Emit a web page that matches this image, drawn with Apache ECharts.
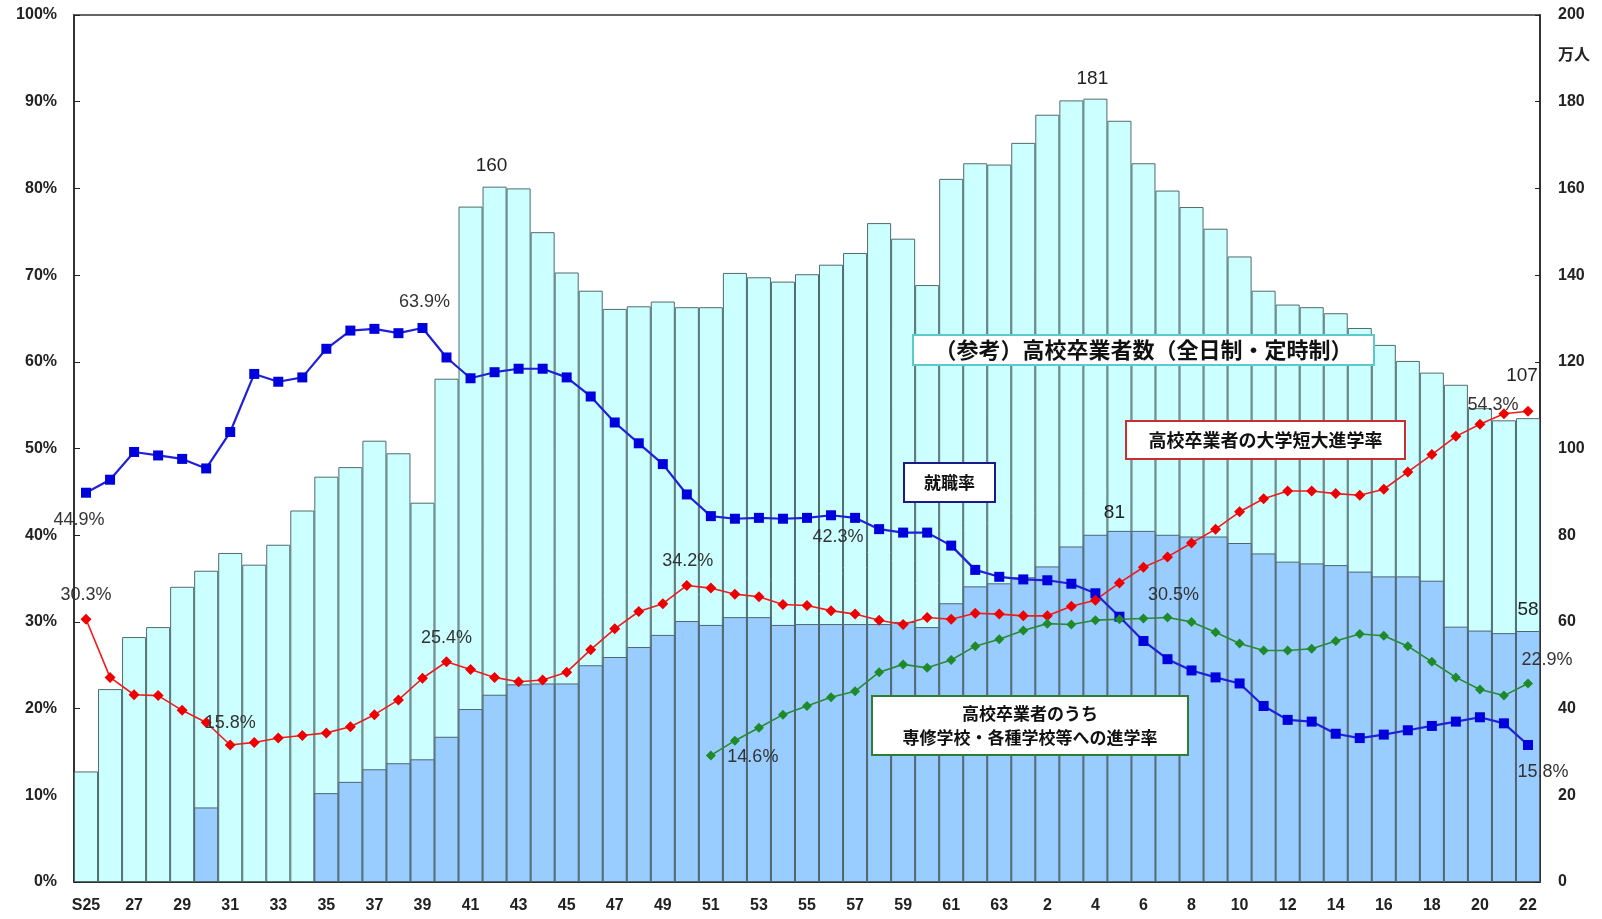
<!DOCTYPE html>
<html>
<head>
<meta charset="utf-8">
<title>高校卒業者の進路状況の推移</title>
<script src="https://cdn.jsdelivr.net/npm/echarts@6/dist/echarts.min.js"></script>
<style>
  html, body { margin: 0; padding: 0; background: #fff; }
  #chart { width: 1602px; height: 919px; }
</style>
</head>
<body>
<div id="chart"></div>
<script>
// 年度（昭和25年〜平成22年）
const categories = [
  'S25','26','27','28','29','30','31','32','33','34',
  '35','36','37','38','39','40','41','42','43','44',
  '45','46','47','48','49','50','51','52','53','54',
  '55','56','57','58','59','60','61','62','63',
  '1','2','3','4','5','6','7','8','9','10',
  '11','12','13','14','15','16','17','18','19','20',
  '21','22'
];

// （参考）高校卒業者数（全日制・定時制）  単位：万人
const totalGrads = [
  25.5, 44.5, 56.5, 58.8, 68.1, 71.8, 75.9, 73.2, 77.8, 85.7,
  93.5, 95.7, 101.8, 98.9, 87.5, 116.1, 155.8, 160.4, 160.0, 149.9,
  140.6, 136.4, 132.2, 132.8, 133.9, 132.6, 132.6, 140.5, 139.5, 138.5,
  140.2, 142.4, 145.1, 152.0, 148.4, 137.7, 162.2, 165.8, 165.5,
  170.5, 177.0, 180.3, 180.7, 175.6, 165.8, 159.5, 155.7, 150.7, 144.3,
  136.4, 133.2, 132.6, 131.2, 127.8, 123.9, 120.2, 117.5, 114.7, 109.3,
  106.5, 107.0
];

// 内訳（濃色の棒）  単位：万人
const subsetGrads = [
  null, null, null, null, null, 17.2, null, null, null, null,
  20.5, 23.1, 26.0, 27.4, 28.3, 33.5, 39.9, 43.2, 45.6, 45.8,
  45.8, 50.0, 51.9, 54.2, 57.0, 60.2, 59.3, 61.1, 61.1, 59.3,
  59.5, 59.5, 59.5, 59.5, 60.0, 58.8, 64.3, 68.2, 68.9,
  70.3, 72.8, 77.4, 80.1, 81.0, 81.0, 80.1, 79.7, 79.7, 78.2,
  75.8, 73.9, 73.5, 73.1, 71.6, 70.5, 70.5, 69.5, 58.9, 58.0,
  57.4, 57.9
];

// 就職率（%）
const employRate = [
  44.9, 46.4, 49.6, 49.2, 48.8, 47.7, 51.9, 58.6, 57.7, 58.2,
  61.5, 63.6, 63.8, 63.3, 63.9, 60.5, 58.1, 58.8, 59.2, 59.2,
  58.2, 56.0, 53.0, 50.6, 48.2, 44.7, 42.2, 41.9, 42.0, 41.9,
  42.0, 42.3, 42.0, 40.7, 40.3, 40.3, 38.8, 36.0, 35.2,
  34.9, 34.8, 34.4, 33.3, 30.6, 27.8, 25.7, 24.4, 23.6, 22.9,
  20.3, 18.7, 18.5, 17.1, 16.6, 17.0, 17.5, 18.0, 18.5, 19.0,
  18.3, 15.8
];

// 高校卒業者の大学短大進学率（%）
const uniRate = [
  30.3, 23.6, 21.6, 21.5, 19.8, 18.4, 15.8, 16.1, 16.6, 16.9,
  17.2, 17.9, 19.3, 21.0, 23.5, 25.4, 24.5, 23.6, 23.1, 23.3,
  24.2, 26.8, 29.2, 31.2, 32.1, 34.2, 33.9, 33.2, 32.9, 32.0,
  31.9, 31.3, 30.9, 30.2, 29.7, 30.5, 30.3, 31.0, 30.9,
  30.7, 30.7, 31.8, 32.5, 34.5, 36.3, 37.5, 39.1, 40.7, 42.7,
  44.2, 45.1, 45.1, 44.8, 44.6, 45.3, 47.3, 49.3, 51.4, 52.8,
  54.0, 54.3
];

// 高校卒業者のうち専修学校・各種学校等への進学率（%）
const specialRate = [
  null, null, null, null, null, null, null, null, null, null,
  null, null, null, null, null, null, null, null, null, null,
  null, null, null, null, null, null, 14.6, 16.3, 17.8, 19.3,
  20.3, 21.3, 22.0, 24.2, 25.1, 24.7, 25.6, 27.2, 28.0,
  29.0, 29.8, 29.7, 30.2, 30.3, 30.4, 30.5, 30.0, 28.8, 27.5,
  26.7, 26.7, 26.9, 27.8, 28.6, 28.4, 27.2, 25.4, 23.6, 22.2,
  21.5, 22.9
];

// 値ラベルを付ける点（インデックス → ラベルのずらし量）
const totalLabelAt   = { 17: [-3, -6], 42: [-3, -5], 60: [-6, -28] };
const subsetLabelAt  = { 43: [-5, -4], 60: [0, -7] };
const employLabelAt  = { 0: [-7, 27], 14: [2, -26], 31: [7, 22], 60: [15, 27] };
const uniLabelAt     = { 0: [0, -24], 6: [0, -22], 15: [0, -24], 25: [1, -24], 60: [-35, -6] };
const specialLabelAt = { 26: [42, 2], 45: [6, -23], 60: [19, -23] };

const LABEL_FONT = "'Liberation Sans', Arial, 'Noto Sans CJK JP', sans-serif";
const CJK_FONT = "'Noto Sans CJK JP', 'Liberation Sans', sans-serif";

function lineData(values, marks) {
  return values.map((v, i) => marks[i] ? {
    value: v,
    label: {
      show: true, position: 'inside', offset: marks[i],
      formatter: p => p.value.toFixed(1) + '%',
      fontFamily: LABEL_FONT, fontSize: 18, color: '#333'
    }
  } : v);
}

function barData(values, marks) {
  return values.map((v, i) => marks[i] ? {
    value: v,
    label: {
      show: true, position: 'top', offset: marks[i],
      formatter: p => String(Math.round(p.value)),
      fontFamily: LABEL_FONT, fontSize: 19, color: '#222'
    }
  } : v);
}

// 凡例代わりの枠付き注記
function noteBox(x, y, w, h, stroke, lines, fontSize) {
  const els = [{
    type: 'rect', x: x, y: y, z: 20,
    shape: { x: 0, y: 0, width: w, height: h },
    style: { fill: '#ffffff', stroke: stroke, lineWidth: 2 }
  }];
  const step = h / lines.length;
  lines.forEach((t, k) => {
    els.push({
      type: 'text', x: x + w / 2, y: y + step * (k + 0.5) + (lines.length > 1 ? (k === 0 ? 3 : -3) : 0), z: 21,
      style: {
        text: t, font: 'bold ' + fontSize + 'px ' + CJK_FONT,
        fill: '#111', align: 'center', verticalAlign: 'middle'
      }
    });
  });
  return els;
}

const chart = echarts.init(document.getElementById('chart'), null, { renderer: 'canvas' });

const tickLabel = { fontFamily: LABEL_FONT, fontSize: 16, fontWeight: 'bold', color: '#222' };

chart.setOption({
  animation: false,
  backgroundColor: '#ffffff',
  grid: {
    left: 74, right: 62, top: 15, bottom: 37,
    show: true, borderColor: '#333', borderWidth: 1.5, backgroundColor: 'transparent'
  },
  xAxis: {
    type: 'category',
    data: categories,
    boundaryGap: true,
    axisLine: { lineStyle: { color: '#222', width: 1.5 } },
    axisTick: { inside: true, length: 4, interval: 0, lineStyle: { color: '#222' } },
    axisLabel: Object.assign({ interval: 1, margin: 16, fontSize: 17 }, tickLabel),
    splitLine: { show: false }
  },
  yAxis: [
    {
      type: 'value', min: 0, max: 100, interval: 10,
      axisLine: { show: true, lineStyle: { color: '#222', width: 1.5 } },
      axisTick: { show: true, inside: true, length: 6, lineStyle: { color: '#222' } },
      axisLabel: Object.assign({ formatter: '{value}%', margin: 17 }, tickLabel),
      splitLine: { show: false }
    },
    {
      type: 'value', min: 0, max: 200, interval: 20, position: 'right',
      axisLine: { show: true, lineStyle: { color: '#222', width: 1.5 } },
      axisTick: { show: true, inside: true, length: 5, lineStyle: { color: '#222' } },
      axisLabel: Object.assign({ margin: 18 }, tickLabel),
      splitLine: { show: false }
    }
  ],
  series: [
    {
      name: '高校卒業者数',
      type: 'bar',
      yAxisIndex: 1,
      data: barData(totalGrads, totalLabelAt),
      barCategoryGap: '0%',
      barGap: '-100%',
      itemStyle: { color: '#ccffff', borderColor: '#4f6b6b', borderWidth: 1 },
      z: 1
    },
    {
      name: '内訳',
      type: 'bar',
      yAxisIndex: 1,
      data: barData(subsetGrads, subsetLabelAt),
      barCategoryGap: '0%',
      barGap: '-100%',
      itemStyle: { color: '#99ccff', borderColor: '#4f6470', borderWidth: 1 },
      z: 2
    },
    {
      name: '就職率',
      type: 'line',
      yAxisIndex: 0,
      data: lineData(employRate, employLabelAt),
      symbol: 'rect', symbolSize: 10,
      lineStyle: { color: '#2020d8', width: 2.2 },
      itemStyle: { color: '#0000dd' },
      z: 5
    },
    {
      name: '大学短大進学率',
      type: 'line',
      yAxisIndex: 0,
      data: lineData(uniRate, uniLabelAt),
      symbol: 'diamond', symbolSize: 11,
      lineStyle: { color: '#ee1c1c', width: 1.6 },
      itemStyle: { color: '#ee0000' },
      z: 5
    },
    {
      name: '専修学校・各種学校等進学率',
      type: 'line',
      yAxisIndex: 0,
      data: lineData(specialRate, specialLabelAt),
      symbol: 'diamond', symbolSize: 10,
      lineStyle: { color: '#2b8a35', width: 1.6 },
      itemStyle: { color: '#1f8a2a' },
      connectNulls: false,
      z: 5
    }
  ],
  graphic: [
    {
      type: 'text', x: 1558, y: 46, z: 20,
      style: { text: '万人', font: 'bold 16px ' + CJK_FONT, fill: '#222' }
    }
  ].concat(
    noteBox(913, 335, 461, 30, '#5ccaca', ['（参考）高校卒業者数（全日制・定時制）'], 22),
    noteBox(904, 463, 91, 39, '#1a1a8a', ['就職率'], 17),
    noteBox(1126, 421, 279, 38, '#c83030', ['高校卒業者の大学短大進学率'], 18),
    noteBox(872, 696, 316, 59, '#2e7d32', ['高校卒業者のうち', '専修学校・各種学校等への進学率'], 17)
  )
});
</script>
</body>
</html>
